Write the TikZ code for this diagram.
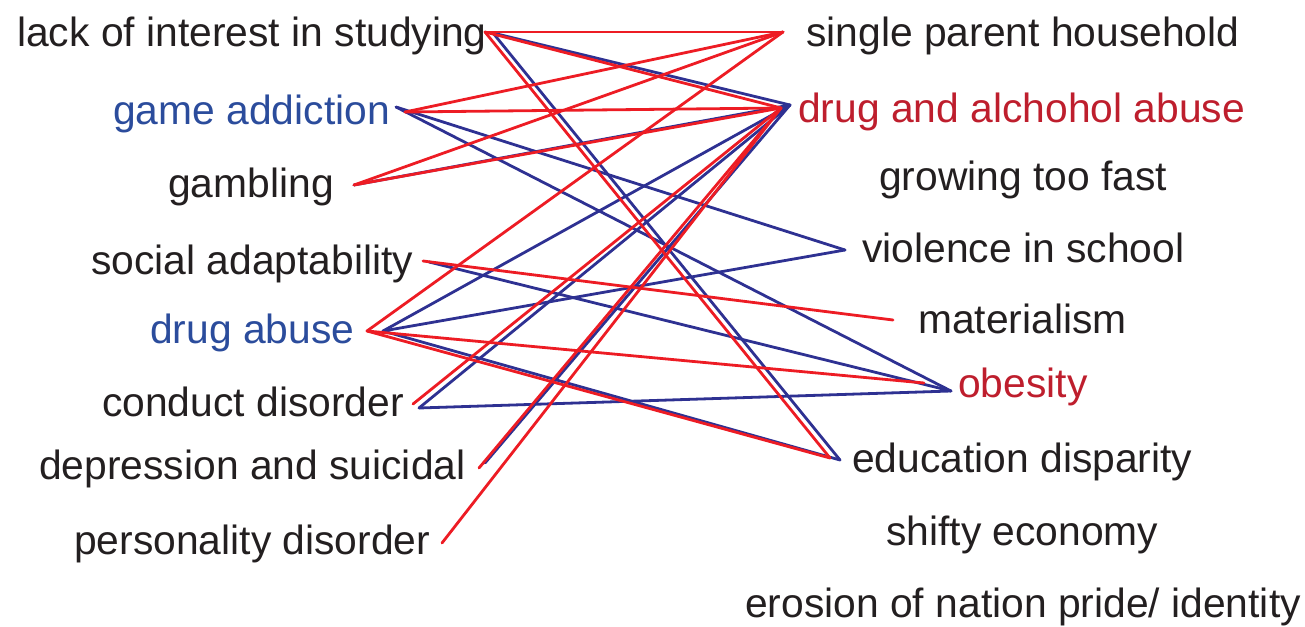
\documentclass[tikz,border=0pt]{standalone}
\usepackage{fontspec}
\setmainfont{Liberation Sans}
\definecolor{txtblack}{HTML}{231F20}
\definecolor{txtblue}{HTML}{2B4C9C}
\definecolor{txtred}{HTML}{BE1E2D}
\definecolor{lnred}{HTML}{ED1C24}
\definecolor{lnblue}{HTML}{2E3192}
\tikzset{
  lbl/.style={inner sep=0pt, anchor=base west, text=txtblack, font=\fontsize{40.8}{48}\selectfont},
  lblblue/.style={lbl, text=txtblue},
  lblred/.style={lbl, text=txtred},
  redline/.style={draw=lnred, line width=2.8pt, line cap=round},
  blueline/.style={draw=lnblue, line width=2.8pt, line cap=round},
}
\begin{document}
\begin{tikzpicture}[x=1pt,y=-1pt]
\useasboundingbox (0,0) rectangle (1305,626);
% left labels
\node[lbl] (lack) at (17,46) {lack of interest in studying};
\node[lblblue] (game) at (113,124) {game addiction};
\node[lbl] (gamb) at (168,197) {gambling};
\node[lbl] (social) at (91,274) {social adaptability};
\node[lblblue] (drug) at (150,343) {drug abuse};
\node[lbl] (cond) at (102,416) {conduct disorder};
\node[lbl] (dep) at (39,479) {depression and suicidal};
\node[lbl] (pers) at (74,554) {personality disorder};
% right labels
\node[lbl] (single) at (806,46) {single parent household};
\node[lblred] (dalc) at (798,122) {drug and alchohol abuse};
\node[lbl] (grow) at (879,190) {growing too fast};
\node[lbl] (viol) at (862,262) {violence in school};
\node[lbl] (mat) at (918,333) {materialism};
\node[lblred] (obes) at (958,397) {obesity};
\node[lbl] (edu) at (852,472) {education disparity};
\node[lbl] (shift) at (886,545) {shifty economy};
\node[lbl] (eros) at (745,617) {erosion of nation pride/ identity};
% connector end points
\coordinate (lackR) at (485,32);
\coordinate (lackB) at (493,33);
\coordinate (gameR) at (405,112);
\coordinate (gameB) at (396,107);
\coordinate (gambP) at (354,185);
\coordinate (socP) at (423,261);
\coordinate (socB) at (429,262);
\coordinate (drugR) at (367,331);
\coordinate (drugB) at (383,331);
\coordinate (condR) at (413,404);
\coordinate (condB) at (419,408);
\coordinate (depR) at (479,468);
\coordinate (depB) at (485,463);
\coordinate (persP) at (442,543);
\coordinate (singleP) at (783,32);
\coordinate (dalcR) at (781,108);
\coordinate (dalcB) at (790,105);
\coordinate (violP) at (845,250);
\coordinate (matP) at (893,320);
\coordinate (obesR) at (924,383);
\coordinate (obesB) at (951,391);
\coordinate (eduR) at (830,458);
\coordinate (eduB) at (840,460);
% blue connectors
\draw[blueline] (lackB) -- (dalcB);
\draw[blueline] (lackB) -- (eduB);
\draw[blueline] (gameB) -- (violP);
\draw[blueline] (gameB) -- (obesB);
\draw[blueline] (gambP) -- (dalcB);
\draw[blueline] (socB) -- (obesB);
\draw[blueline] (drugB) -- (dalcB);
\draw[blueline] (drugB) -- (violP);
\draw[blueline] (drugB) -- (eduB);
\draw[blueline] (condB) -- (dalcB);
\draw[blueline] (condB) -- (obesB);
\draw[blueline] (depB) -- (dalcB);
% red connectors
\draw[redline] (lackR) -- (singleP);
\draw[redline] (lackR) -- (dalcR);
\draw[redline] (lackR) -- (eduR);
\draw[redline] (gameR) -- (singleP);
\draw[redline] (gameR) -- (dalcR);
\draw[redline] (gambP) -- (singleP);
\draw[redline] (gambP) -- (dalcR);
\draw[redline] (socP) -- (matP);
\draw[redline] (drugR) -- (singleP);
\draw[redline] (drugR) -- (obesR);
\draw[redline] (drugR) -- (eduR);
\draw[redline] (condR) -- (dalcR);
\draw[redline] (depR) -- (dalcR);
\draw[redline] (persP) -- (dalcR);
\end{tikzpicture}
\end{document}
